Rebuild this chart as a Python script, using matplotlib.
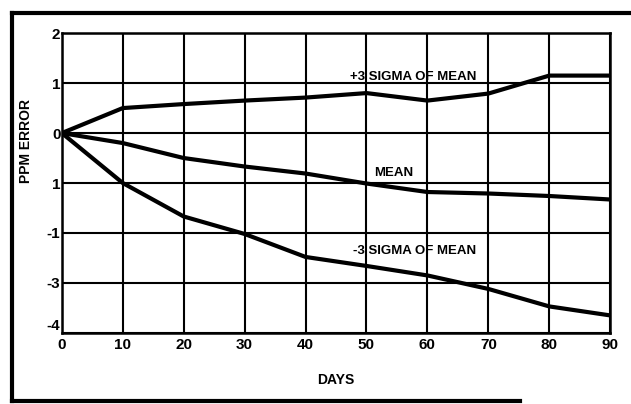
import matplotlib.pyplot as plt
from matplotlib.lines import Line2D

# datos
dias = [0, 10, 20, 30, 40, 50, 60, 70, 80, 90]
mas_3sigma = [0, 0.50, 0.58, 0.65, 0.71, 0.80, 0.65, 0.79, 1.15, 1.15]
media = [0, -0.20, -0.50, -0.67, -0.81, -1.01, -1.18, -1.21, -1.26, -1.33]
menos_3sigma = [0, -1.00, -1.67, -2.02, -2.48, -2.66, -2.85, -3.12, -3.47, -3.65]

y_ticks = [2, 1, 0, -1, -2, -3, -4]
y_labels = ['2', '1', '0', '1', '-1', '-3', '-4']  # tal como estan impresos
x_ticks = dias

plt.rcParams['font.family'] = ['Liberation Sans', 'DejaVu Sans']
plt.rcParams['font.weight'] = 'bold'
plt.rcParams['axes.labelweight'] = 'bold'

fig = plt.figure(figsize=(6.31, 4.04), dpi=100)
ax = fig.add_axes([0.098, 0.176, 0.869, 0.742])

for serie in (mas_3sigma, media, menos_3sigma):
    ax.plot(dias, serie, color='black', linewidth=3.0, solid_capstyle='round', zorder=3)

ax.set_xlim(0, 90)
ax.set_ylim(-4, 2)
ax.set_xticks(x_ticks)
ax.set_yticks(y_ticks)
ax.set_yticklabels(y_labels)
ax.grid(True, color='black', linewidth=1.5)
ax.tick_params(length=0, labelsize=11, pad=4)
ax.tick_params(axis='y', pad=1)
ax.get_yticklabels()[-1].set_va('bottom')
for s in ax.spines.values():
    s.set_linewidth(1.8)

ax.set_xlabel('DAYS', fontsize=10)
ax.xaxis.set_label_coords(0.5, -0.135)
ax.set_ylabel('PPM ERROR', fontsize=10)
ax.yaxis.set_label_coords(-0.053, 0.64)

ax.text(47.3, 1.0, '+3 SIGMA OF MEAN', fontsize=9.5, ha='left', va='bottom')
ax.text(51.2, -0.92, 'MEAN', fontsize=9.5, ha='left', va='bottom')
ax.text(47.8, -2.48, '-3 SIGMA OF MEAN', fontsize=9.5, ha='left', va='bottom')

# marco exterior (escaneado: sin borde derecho)
W, H = 631.0, 404.0
marco = [((12, 631), (13, 13)), ((12, 12), (13, 401)), ((12, 520), (401, 401))]
for xs, ys in marco:
    fig.add_artist(Line2D([x / W for x in xs], [1 - y / H for y in ys],
                          transform=fig.transFigure, color='black', linewidth=3))

fig.savefig('out.png', dpi=100)
